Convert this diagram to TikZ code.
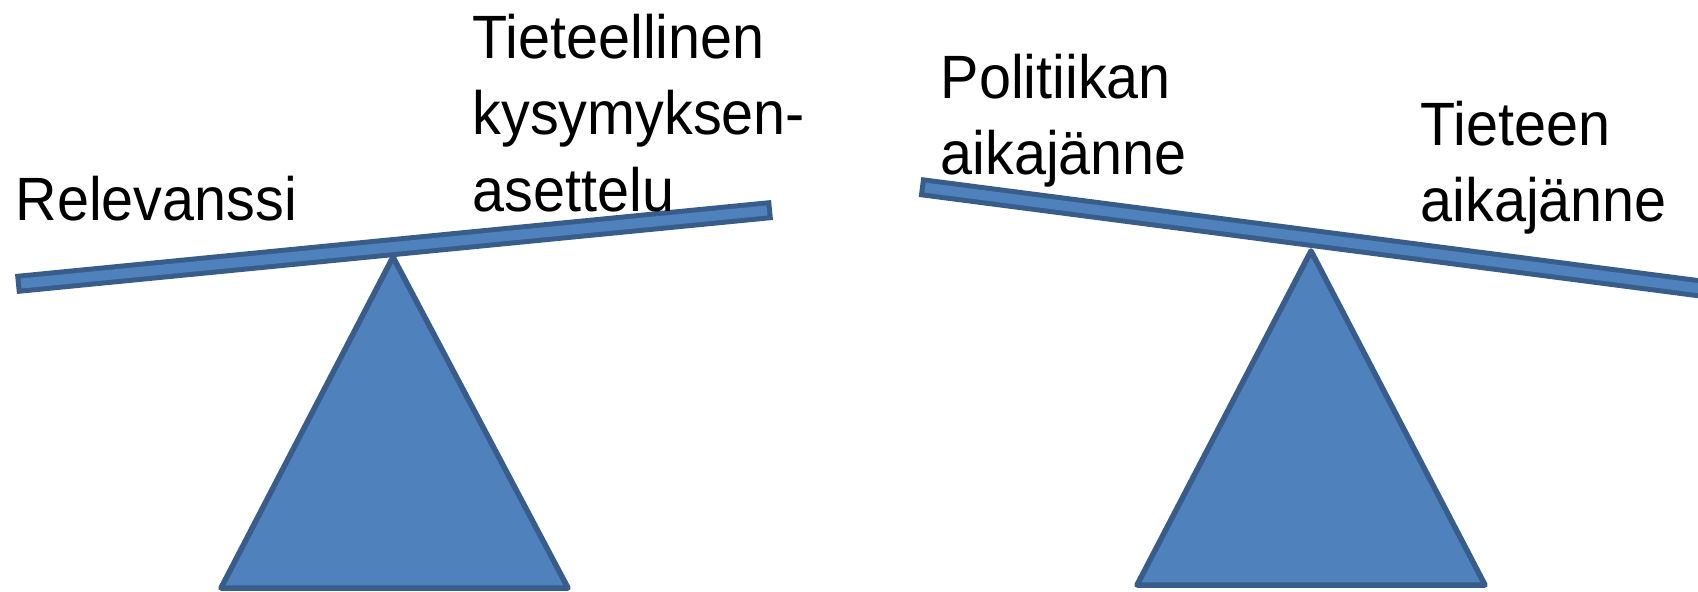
\documentclass[tikz,border=0pt]{standalone}
\usepackage{fontspec}
\setmainfont{Liberation Sans}[FakeStretch=0.94]
\definecolor{barblue}{RGB}{79,129,189}
\definecolor{baredge}{RGB}{56,93,138}

\begin{document}
\begin{tikzpicture}[x=0.01cm,y=-0.01cm,
    lbl/.style={anchor=north west, inner sep=0pt, align=left,
      font=\fontsize{17.4}{21.8}\selectfont},
    fulcrum/.style={fill=barblue, draw=baredge, line width=0.055cm, line join=round},
    beamedge/.style={draw=baredge, line width=0.20cm},
    beamfill/.style={draw=barblue, line width=0.10cm,
      shorten <=0.05cm, shorten >=0.05cm}]
    \useasboundingbox (0,0) rectangle (1698,591);
    \clip (0,0) rectangle (1698,591);

    % left balance
    \draw[fulcrum] (393,257) -- (568,588) -- (221,588) -- cycle;
    \draw[beamedge] (16,284) -- (772,210);
    \draw[beamfill] (16,284) -- (772,210);

    % right balance
    \draw[fulcrum] (1311,251) -- (1485,585) -- (1137,585) -- cycle;
    \draw[beamedge] (920,187) -- (1720,291);
    \draw[beamfill] (920,187) -- (1720,291);

    % labels
    \node[lbl] (relev) at (15,175) {Relevanssi};
    \node[lbl] (kysym) at (472,13) {Tieteellinen\\kysymyksen-\\asettelu};
    \node[lbl] (polit) at (940,53) {Politiikan\\aikajänne};
    \node[lbl] (tiet) at (1420,100) {Tieteen\\aikajänne};
\end{tikzpicture}
\end{document}
